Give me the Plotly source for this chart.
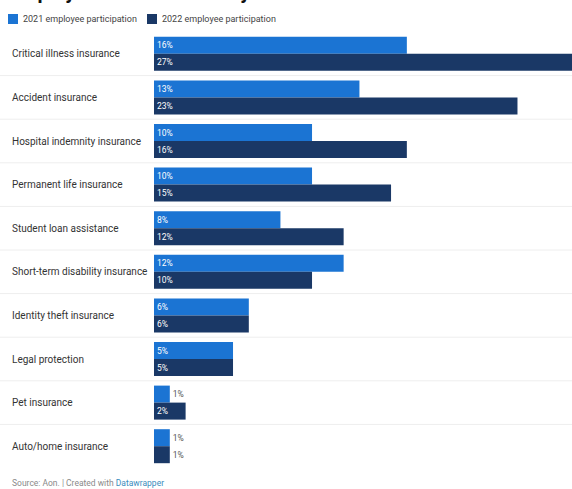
import plotly.graph_objects as go

categories = [
    "Critical illness insurance",
    "Accident insurance",
    "Hospital indemnity insurance",
    "Permanent life insurance",
    "Student loan assistance",
    "Short-term disability insurance",
    "Identity theft insurance",
    "Legal protection",
    "Pet insurance",
    "Auto/home insurance",
]
participation_2021 = [16, 13, 10, 10, 8, 12, 6, 5, 1, 1]
participation_2022 = [27, 23, 16, 15, 12, 10, 6, 5, 2, 1]
series_names = ["2021 employee participation", "2022 employee participation"]
title_text = "Employee election rates by benefit"
source_text = "Source: Aon. | Created with <span style='color:#3b8dbd'>Datawrapper</span>"

COL_2021 = "#1b74d3"
COL_2022 = "#1a3866"
FONT = "Roboto"

fig = go.Figure()
for name, vals, col in [(series_names[0], participation_2021, COL_2021),
                        (series_names[1], participation_2022, COL_2022)]:
    fig.add_trace(go.Bar(
        y=categories, x=vals, orientation="h", name=name,
        marker=dict(color=col, line=dict(width=0)),
        text=[f"{v}%" for v in vals],
        textposition=["inside" if v >= 2 else "outside" for v in vals],
        insidetextanchor="start",
        insidetextfont=dict(color="white", size=8.5, family=FONT),
        outsidetextfont=dict(color="#555555", size=8.5, family=FONT),
        constraintext="none",
        cliponaxis=True,
        showlegend=False,
    ))

shapes = []
for i in range(len(categories) - 1):
    shapes.append(dict(type="line", xref="paper", yref="y",
                       x0=-0.37, x1=1, y0=i + 0.5, y1=i + 0.5,
                       line=dict(color="#eeeeee", width=1), layer="below"))
annotations = []
for c in categories:
    annotations.append(dict(xref="paper", yref="y", x=0, y=c, xshift=-144,
                            xanchor="left", yanchor="middle", text=c, showarrow=False,
                            font=dict(size=10, color="#333333", family=FONT)))
leg_x = [-146, -7]
for name, col, lx in zip(series_names, [COL_2021, COL_2022], leg_x):
    shapes.append(dict(type="rect", xref="paper", yref="paper",
                       xsizemode="pixel", ysizemode="pixel", xanchor=0, yanchor=1,
                       x0=lx, x1=lx + 10, y0=8, y1=18,
                       fillcolor=col, line=dict(width=0)))
    annotations.append(dict(xref="paper", yref="paper", x=0, y=1, xshift=lx + 13, yshift=13,
                            xanchor="left", yanchor="middle", text=name, showarrow=False,
                            font=dict(size=9, color="#444444", family=FONT)))
annotations.append(dict(xref="paper", yref="paper", x=0, y=1, xshift=-147, yshift=26,
                        xanchor="left", yanchor="bottom", text=f"<b>{title_text}</b>",
                        showarrow=False, font=dict(size=20, color="#111111", family=FONT)))
annotations.append(dict(xref="paper", yref="paper", x=0, y=0, xshift=-144, yshift=-15,
                        xanchor="left", yanchor="middle", text=source_text, showarrow=False,
                        font=dict(size=8.5, color="#8a8a8a", family=FONT)))

fig.update_layout(
    width=572, height=489,
    margin=dict(l=154, r=0, t=32, b=21),
    paper_bgcolor="white", plot_bgcolor="white",
    barmode="group", bargap=0.22, bargroupgap=0,
    xaxis=dict(range=[0, 26.45], visible=False, showgrid=False, zeroline=False),
    yaxis=dict(categoryorder="array", categoryarray=categories, range=[9.5, -0.5],
               showticklabels=False, showgrid=False, zeroline=False, ticks=""),
    shapes=shapes, annotations=annotations,
    font=dict(family=FONT),
)

fig.write_html("out.html", config={"displayModeBar": False},
               post_script="document.body.style.margin='0';document.body.style.overflow='hidden';")
